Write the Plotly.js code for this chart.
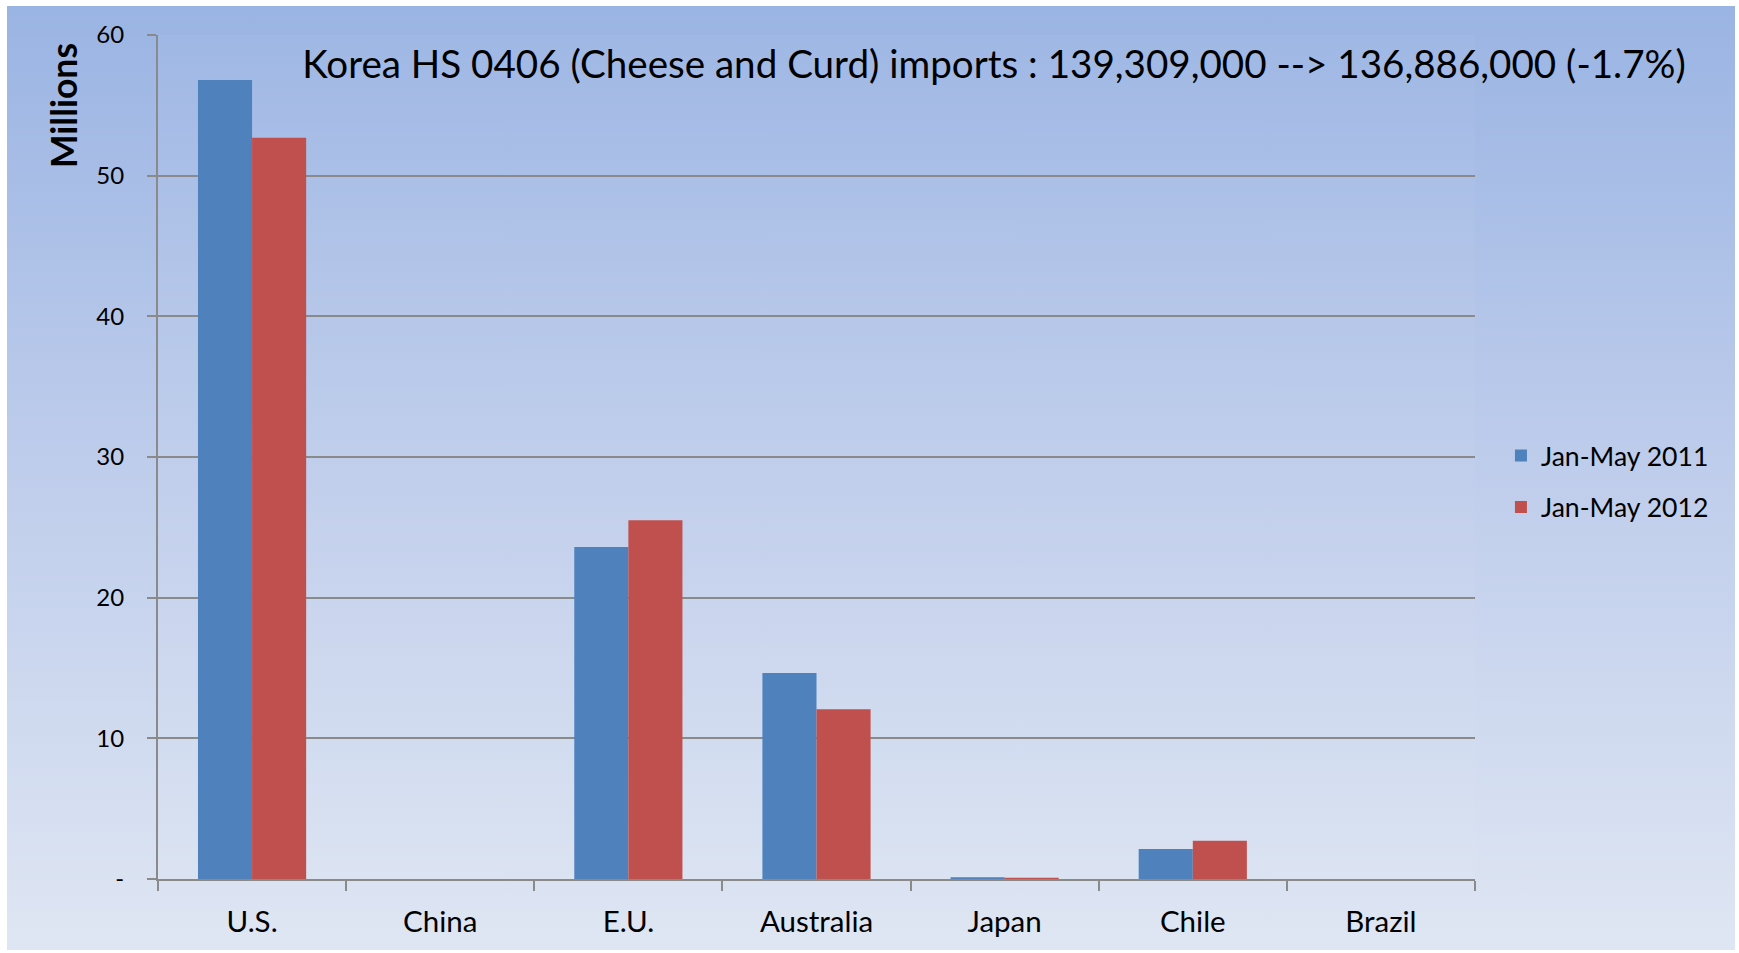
<!DOCTYPE html>
<html>
<head>
<meta charset="utf-8">
<script src="https://cdn.plot.ly/plotly-3.0.1.min.js"></script>
<style>
  html, body { margin: 0; padding: 0; background: #ffffff; }
  #bg { position: absolute; left: 7px; top: 6px; width: 1728px; height: 944px;
        background: linear-gradient(to bottom, #9ab4e3 0%, #bccbeb 45%, #dfe6f3 100%); }
  #chart { position: absolute; left: 0; top: 0; width: 1739px; height: 953px; }
</style>
</head>
<body>
<div id="bg"></div>
<div id="chart"></div>
<script>
const categories = ["U.S.", "China", "E.U.", "Australia", "Japan", "Chile", "Brazil"];
const seriesNames = ["Jan-May 2011", "Jan-May 2012"];
const values2011 = [56.8, 0, 23.6, 14.65, 0.12, 2.13, 0];
const values2012 = [52.7, 0, 25.5, 12.06, 0.08, 2.72, 0];
const yTickVals = [0, 10, 20, 30, 40, 50, 60];
const yTickText = ["-", "10", "20", "30", "40", "50", "60"];
const titleText = "Korea HS 0406 (Cheese and Curd) imports : 139,309,000 --> 136,886,000 (-1.7%)";
const yAxisTitle = "Millions";

const FONT = "Lato, 'Open Sans', sans-serif";
const GRID = "#8a8a8a";

const traces = [
  { type: "bar", name: seriesNames[0], x: categories, y: values2011,
    marker: { color: "#4f81bd", line: { width: 0 } }, legendgroup: "a" },
  { type: "bar", name: seriesNames[1], x: categories, y: values2012,
    marker: { color: "#c0504d", line: { width: 0 } }, legendgroup: "b" }
];

const layout = {
  width: 1739, height: 953,
  paper_bgcolor: "rgba(0,0,0,0)",
  plot_bgcolor: "rgba(255,255,255,0.04)",
  font: { family: FONT, color: "#000000" },
  margin: { l: 158, r: 264, t: 35, b: 74, pad: 0 },
  barmode: "group",
  bargap: 0.425,
  bargroupgap: 0,
  title: {
    text: titleText,
    font: { family: FONT, size: 38.6, color: "#000000" },
    xref: "container", x: 994 / 1739, xanchor: "center",
    yref: "container", y: 1 - 64 / 953, yanchor: "middle"
  },
  xaxis: {
    type: "category",
    range: [-0.5, 6.5],
    showline: true, linecolor: GRID, linewidth: 2,
    ticks: "outside", tickson: "boundaries", ticklen: 10, tickwidth: 2, tickcolor: GRID,
    ticklabelstandoff: 16,
    tickfont: { family: FONT, size: 29.5, color: "#000000" },
    showgrid: false, zeroline: false, fixedrange: true
  },
  yaxis: {
    range: [0, 60],
    tickvals: yTickVals, ticktext: yTickText,
    showline: true, linecolor: GRID, linewidth: 2,
    ticks: "outside", ticklen: 9, tickwidth: 2, tickcolor: GRID,
    ticklabelstandoff: 18,
    tickfont: { family: FONT, size: 24, color: "#000000" },
    showgrid: true, gridcolor: GRID, gridwidth: 2,
    zeroline: false,
    fixedrange: true
  },
  annotations: [{
    text: "<b>" + yAxisTitle + "</b>",
    xref: "paper", yref: "paper",
    x: (64 - 158) / 1317, y: (879 - 106) / 844,
    xanchor: "center", yanchor: "middle",
    textangle: -90, showarrow: false,
    font: { family: FONT, size: 35.5, color: "#000000" }
  }],
  legend: {
    x: 1.0197, xanchor: "left", xref: "paper",
    y: 0.53, yanchor: "top",
    bgcolor: "rgba(0,0,0,0)",
    font: { family: FONT, size: 26.6, color: "#000000" },
    traceorder: "grouped",
    tracegroupgap: 14
  },
  showlegend: true
};

Plotly.newPlot("chart", traces, layout, { displayModeBar: false, staticPlot: true });
</script>
</body>
</html>
